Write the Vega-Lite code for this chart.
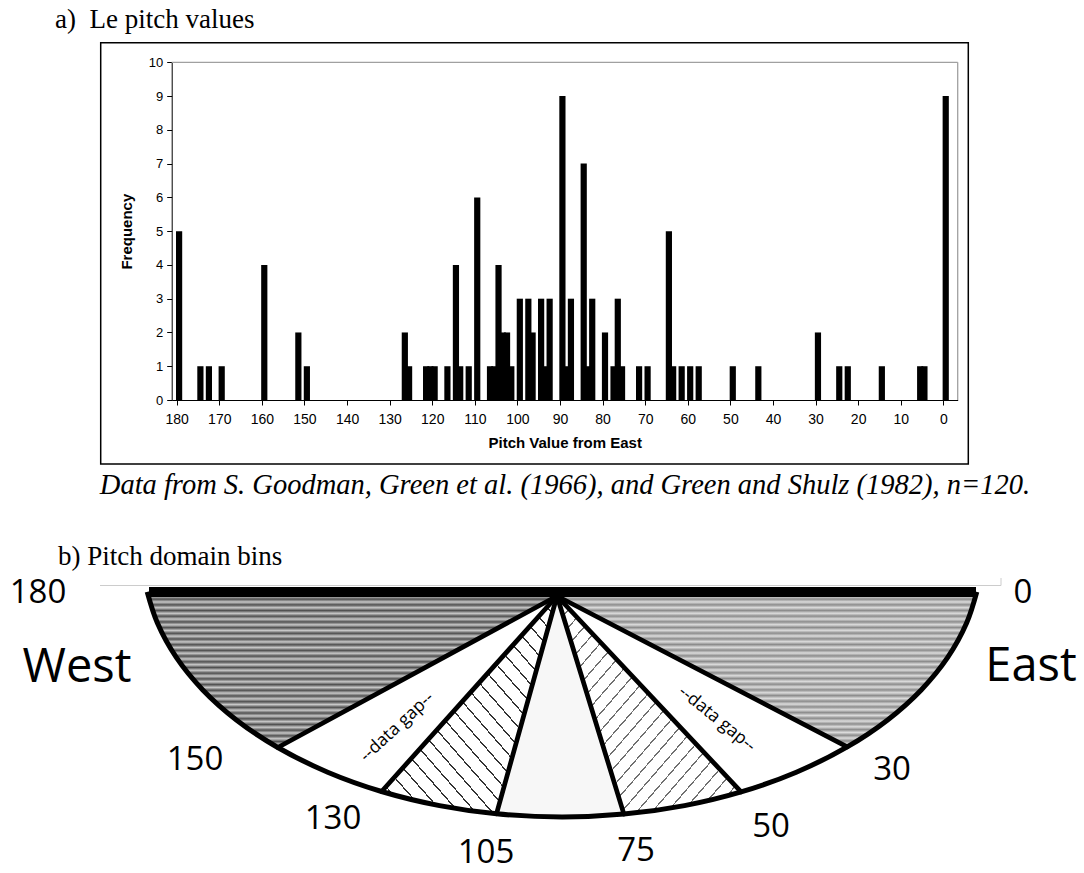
{
  "$schema": "https://vega.github.io/schema/vega-lite/v6.json",
  "width": 1084,
  "height": 873,
  "autosize": {"type": "none"},
  "padding": 0,
  "background": "#ffffff",
  "config": {"view": {"stroke": null}},
  "datasets": {
    "pitch": [
      {"pitch": 180, "count": 5}, {"pitch": 175, "count": 1}, {"pitch": 173, "count": 1}, {"pitch": 170, "count": 1},
      {"pitch": 160, "count": 4}, {"pitch": 152, "count": 2}, {"pitch": 150, "count": 1}, {"pitch": 127, "count": 2},
      {"pitch": 126, "count": 1}, {"pitch": 122, "count": 1}, {"pitch": 121, "count": 1}, {"pitch": 120, "count": 1},
      {"pitch": 117, "count": 1}, {"pitch": 115, "count": 4}, {"pitch": 114, "count": 1}, {"pitch": 112, "count": 1},
      {"pitch": 110, "count": 6}, {"pitch": 107, "count": 1}, {"pitch": 106, "count": 1}, {"pitch": 105, "count": 4},
      {"pitch": 104, "count": 2}, {"pitch": 103, "count": 2}, {"pitch": 102, "count": 1}, {"pitch": 100, "count": 3},
      {"pitch": 98, "count": 3}, {"pitch": 97, "count": 2}, {"pitch": 95, "count": 3}, {"pitch": 94, "count": 1},
      {"pitch": 93, "count": 3}, {"pitch": 90, "count": 9}, {"pitch": 89, "count": 1}, {"pitch": 88, "count": 3},
      {"pitch": 85, "count": 7}, {"pitch": 84, "count": 1}, {"pitch": 83, "count": 3}, {"pitch": 80, "count": 2},
      {"pitch": 78, "count": 1}, {"pitch": 77, "count": 3}, {"pitch": 76, "count": 1}, {"pitch": 72, "count": 1},
      {"pitch": 70, "count": 1}, {"pitch": 65, "count": 5}, {"pitch": 64, "count": 1}, {"pitch": 62, "count": 1},
      {"pitch": 60, "count": 1}, {"pitch": 58, "count": 1}, {"pitch": 50, "count": 1}, {"pitch": 44, "count": 1},
      {"pitch": 30, "count": 2}, {"pitch": 25, "count": 1}, {"pitch": 23, "count": 1}, {"pitch": 15, "count": 1},
      {"pitch": 6, "count": 1}, {"pitch": 5, "count": 1}, {"pitch": 0, "count": 9}
    ],
    "wedges": [
      {"bin": "150-180", "i": 0, "u": 0, "v": 0},
      {"bin": "150-180", "i": 1, "u": -2.792, "v": -1.515},
      {"bin": "150-180", "i": 2, "u": -3.206, "v": -1.239},
      {"bin": "150-180", "i": 3, "u": -3.542, "v": -0.939},
      {"bin": "150-180", "i": 4, "u": -3.807, "v": -0.614},
      {"bin": "150-180", "i": 5, "u": -3.997, "v": -0.268},
      {"bin": "150-180", "i": 6, "u": -4.098, "v": 0.041},
      {"bin": "150-180", "i": 7, "u": 0, "v": 0},
      {"bin": "130-150", "i": 0, "u": 0, "v": 0},
      {"bin": "130-150", "i": 1, "u": -1.754, "v": -1.955},
      {"bin": "130-150", "i": 2, "u": -2.293, "v": -1.762},
      {"bin": "130-150", "i": 3, "u": -2.792, "v": -1.515},
      {"bin": "130-150", "i": 4, "u": 0, "v": 0},
      {"bin": "105-130", "i": 0, "u": 0, "v": 0},
      {"bin": "105-130", "i": 1, "u": -0.605, "v": -2.178},
      {"bin": "105-130", "i": 2, "u": -1.175, "v": -2.096},
      {"bin": "105-130", "i": 3, "u": -1.754, "v": -1.955},
      {"bin": "105-130", "i": 4, "u": 0, "v": 0},
      {"bin": "75-105", "i": 0, "u": 0, "v": 0},
      {"bin": "75-105", "i": 1, "u": 0.669, "v": -2.181},
      {"bin": "75-105", "i": 2, "u": 0.05, "v": -2.21},
      {"bin": "75-105", "i": 3, "u": -0.605, "v": -2.178},
      {"bin": "75-105", "i": 4, "u": 0, "v": 0},
      {"bin": "50-75", "i": 0, "u": 0, "v": 0},
      {"bin": "50-75", "i": 1, "u": 1.841, "v": -1.959},
      {"bin": "50-75", "i": 2, "u": 1.275, "v": -2.096},
      {"bin": "50-75", "i": 3, "u": 0.669, "v": -2.181},
      {"bin": "50-75", "i": 4, "u": 0, "v": 0},
      {"bin": "30-50", "i": 0, "u": 0, "v": 0},
      {"bin": "30-50", "i": 1, "u": 2.902, "v": -1.509},
      {"bin": "30-50", "i": 2, "u": 2.393, "v": -1.762},
      {"bin": "30-50", "i": 3, "u": 1.841, "v": -1.959},
      {"bin": "30-50", "i": 4, "u": 0, "v": 0},
      {"bin": "0-30", "i": 0, "u": 0, "v": 0},
      {"bin": "0-30", "i": 1, "u": 4.198, "v": 0.041},
      {"bin": "0-30", "i": 2, "u": 4.097, "v": -0.268},
      {"bin": "0-30", "i": 3, "u": 3.907, "v": -0.614},
      {"bin": "0-30", "i": 4, "u": 3.642, "v": -0.939},
      {"bin": "0-30", "i": 5, "u": 3.306, "v": -1.239},
      {"bin": "0-30", "i": 6, "u": 2.902, "v": -1.509},
      {"bin": "0-30", "i": 7, "u": 0, "v": 0}
    ],
    "rim": [
      {"i": 0, "u": -4.098, "v": 0.041}, {"i": 1, "u": -3.997, "v": -0.268}, {"i": 2, "u": -3.807, "v": -0.614},
      {"i": 3, "u": -3.542, "v": -0.939}, {"i": 4, "u": -3.206, "v": -1.239}, {"i": 5, "u": -2.792, "v": -1.515},
      {"i": 6, "u": -2.293, "v": -1.762}, {"i": 7, "u": -1.754, "v": -1.955}, {"i": 8, "u": -1.175, "v": -2.096},
      {"i": 9, "u": -0.605, "v": -2.178}, {"i": 10, "u": 0.05, "v": -2.21}, {"i": 11, "u": 0.669, "v": -2.181},
      {"i": 12, "u": 1.275, "v": -2.096}, {"i": 13, "u": 1.841, "v": -1.959}, {"i": 14, "u": 2.393, "v": -1.762},
      {"i": 15, "u": 2.902, "v": -1.509}, {"i": 16, "u": 3.306, "v": -1.239}, {"i": 17, "u": 3.642, "v": -0.939},
      {"i": 18, "u": 3.907, "v": -0.614}, {"i": 19, "u": 4.097, "v": -0.268}, {"i": 20, "u": 4.198, "v": 0.041}
    ],
    "spokes": [
      {"boundary": 150, "u": -2.792, "v": -1.515},
      {"boundary": 130, "u": -1.754, "v": -1.955},
      {"boundary": 105, "u": -0.605, "v": -2.178},
      {"boundary": 75, "u": 0.669, "v": -2.181},
      {"boundary": 50, "u": 1.841, "v": -1.959},
      {"boundary": 30, "u": 2.902, "v": -1.509}
    ],
    "angles": [
      {"text": "180", "u": -5.19, "v": 0.03},
      {"text": "0", "u": 4.66, "v": 0.03},
      {"text": "150", "u": -3.62, "v": -1.64},
      {"text": "130", "u": -2.24, "v": -2.23},
      {"text": "105", "u": -0.71, "v": -2.57},
      {"text": "75", "u": 0.79, "v": -2.55},
      {"text": "50", "u": 2.14, "v": -2.31},
      {"text": "30", "u": 3.35, "v": -1.74}
    ],
    "compass": [
      {"text": "West", "u": -4.8, "v": -0.72},
      {"text": "East", "u": 4.74, "v": -0.71}
    ],
    "titles": [
      {"text": "a)\u00a0 Le pitch values", "u": -5.02, "v": 5.76},
      {"text": "b) Pitch domain bins", "u": -4.99, "v": 0.39}
    ],
    "caption": [
      {"text": "Data from S. Goodman, Green et al. (1966), and Green and Shulz (1982), n=120.", "u": 0.08, "v": 1.11}
    ],
    "gapLeft": [{"text": "--data gap--", "u": -1.6, "v": -1.31}],
    "gapRight": [{"text": "--data gap--", "u": 1.6, "v": -1.23}]
  },
  "resolve": {"scale": {"x": "independent", "y": "independent"}},
  "layer": [
    {
      "data": {"name": "pitch"},
      "mark": {"type": "bar", "color": "#000000", "width": 6.2, "xOffset": 2.4},
      "encoding": {
        "x": {
          "field": "pitch", "type": "quantitative",
          "scale": {"domain": [-2.2, 180], "range": [957.7, 171.7], "nice": false, "zero": false},
          "axis": {
            "orient": "bottom", "offset": -473,
            "values": [180, 170, 160, 150, 140, 130, 120, 110, 100, 90, 80, 70, 60, 50, 40, 30, 20, 10, 0],
            "format": "d", "grid": false,
            "domainColor": "#000000", "domainWidth": 1,
            "tickColor": "#000000", "tickSize": 5, "tickWidth": 1,
            "labelFont": "Liberation Sans", "labelFontSize": 14, "labelColor": "#000000", "labelPadding": 7,
            "labelFlush": false, "labelOverlap": false,
            "title": "Pitch Value from East", "titleFont": "Liberation Sans", "titleFontSize": 15,
            "titleFontWeight": "bold", "titleColor": "#000000", "titlePadding": 9
          }
        },
        "y": {
          "field": "count", "type": "quantitative",
          "scale": {"domain": [0, 10], "range": [400, 62.3], "nice": false},
          "axis": {
            "orient": "left", "offset": -171.7,
            "values": [0, 1, 2, 3, 4, 5, 6, 7, 8, 9, 10],
            "format": "d", "grid": false,
            "domainColor": "#000000", "domainWidth": 1,
            "tickColor": "#000000", "tickSize": 5, "tickWidth": 1,
            "labelFont": "Liberation Sans", "labelFontSize": 13, "labelColor": "#000000", "labelPadding": 4,
            "labelFlush": false, "labelOverlap": false,
            "title": "Frequency", "titleFont": "Liberation Sans", "titleFontSize": 15,
            "titleFontWeight": "bold", "titleColor": "#000000", "titlePadding": 14
          }
        }
      }
    },
    {
      "layer": [
        {
          "data": {"values": [{}]},
          "mark": {"type": "rect", "fill": "transparent", "stroke": "#000000", "strokeWidth": 1.5},
          "encoding": {
            "x": {"datum": -4.563, "type": "quantitative", "scale": {"domain": [-5.57, 5.27], "range": [0, 1084], "nice": false, "zero": false}, "axis": null},
            "x2": {"datum": 4.113},
            "y": {"datum": 5.533, "type": "quantitative", "scale": {"domain": [-2.77, 5.96], "range": [873, 0], "nice": false, "zero": false}, "axis": null},
            "y2": {"datum": 1.32}
          }
        },
        {
          "data": {"values": [{}]},
          "mark": {"type": "rule", "stroke": "#a0a0a0", "strokeWidth": 1.3},
          "encoding": {
            "x": {"datum": -3.853, "type": "quantitative", "axis": null},
            "x2": {"datum": 4.007},
            "y": {"datum": 5.337, "type": "quantitative", "axis": null}
          }
        },
        {
          "data": {"values": [{}]},
          "mark": {"type": "rule", "stroke": "#a0a0a0", "strokeWidth": 1.3},
          "encoding": {
            "x": {"datum": 4.007, "type": "quantitative", "axis": null},
            "y": {"datum": 5.337, "type": "quantitative", "axis": null},
            "y2": {"datum": 1.96}
          }
        },
        {
          "data": {"name": "titles"},
          "mark": {"type": "text", "font": "Liberation Serif", "fontSize": 27, "align": "left", "baseline": "middle", "color": "#000000"},
          "encoding": {
            "x": {"field": "u", "type": "quantitative", "axis": null},
            "y": {"field": "v", "type": "quantitative", "axis": null},
            "text": {"field": "text"}
          }
        },
        {
          "data": {"name": "caption"},
          "mark": {"type": "text", "font": "Liberation Serif", "fontStyle": "italic", "fontSize": 28.5, "align": "center", "baseline": "middle", "color": "#000000"},
          "encoding": {
            "x": {"field": "u", "type": "quantitative", "axis": null},
            "y": {"field": "v", "type": "quantitative", "axis": null},
            "text": {"field": "text"}
          }
        },
        {
          "data": {"values": [{}]},
          "mark": {"type": "rule", "stroke": "#cccccc", "strokeWidth": 1},
          "encoding": {
            "x": {"datum": -4.57, "type": "quantitative", "axis": null},
            "x2": {"datum": 4.44},
            "y": {"datum": 0.105, "type": "quantitative", "axis": null}
          }
        },
        {
          "data": {"values": [{}]},
          "mark": {"type": "rule", "stroke": "#cccccc", "strokeWidth": 1},
          "encoding": {
            "x": {"datum": 4.44, "type": "quantitative", "axis": null},
            "y": {"datum": 0.105, "type": "quantitative", "axis": null},
            "y2": {"datum": 0.18}
          }
        },
        {
          "data": {"name": "wedges"},
          "transform": [{"filter": "datum.bin == '150-180'"}],
          "mark": {
            "type": "line", "stroke": "transparent", "strokeWidth": 0,
            "fill": {
              "gradient": "linear", "x1": 0, "y1": 0, "x2": 0, "y2": 1,
              "stops": [
                {"offset": 0.0100, "color": "#505050"}, {"offset": 0.0283, "color": "#c8c8c8"},
                {"offset": 0.0466, "color": "#505050"}, {"offset": 0.0649, "color": "#c8c8c8"},
                {"offset": 0.0832, "color": "#505050"}, {"offset": 0.1015, "color": "#c8c8c8"},
                {"offset": 0.1198, "color": "#505050"}, {"offset": 0.1381, "color": "#c8c8c8"},
                {"offset": 0.1564, "color": "#505050"}, {"offset": 0.1747, "color": "#c8c8c8"},
                {"offset": 0.1930, "color": "#505050"}, {"offset": 0.2113, "color": "#c8c8c8"},
                {"offset": 0.2296, "color": "#505050"}, {"offset": 0.2479, "color": "#c8c8c8"},
                {"offset": 0.2662, "color": "#505050"}, {"offset": 0.2845, "color": "#c8c8c8"},
                {"offset": 0.3028, "color": "#505050"}, {"offset": 0.3211, "color": "#c8c8c8"},
                {"offset": 0.3394, "color": "#505050"}, {"offset": 0.3577, "color": "#c8c8c8"},
                {"offset": 0.3760, "color": "#505050"}, {"offset": 0.3943, "color": "#c8c8c8"},
                {"offset": 0.4126, "color": "#505050"}, {"offset": 0.4309, "color": "#c8c8c8"},
                {"offset": 0.4492, "color": "#505050"}, {"offset": 0.4675, "color": "#c8c8c8"},
                {"offset": 0.4858, "color": "#505050"}, {"offset": 0.5041, "color": "#c8c8c8"},
                {"offset": 0.5224, "color": "#505050"}, {"offset": 0.5407, "color": "#c8c8c8"},
                {"offset": 0.5590, "color": "#505050"}, {"offset": 0.5773, "color": "#c8c8c8"},
                {"offset": 0.5956, "color": "#505050"}, {"offset": 0.6139, "color": "#c8c8c8"},
                {"offset": 0.6322, "color": "#505050"}, {"offset": 0.6505, "color": "#c8c8c8"},
                {"offset": 0.6688, "color": "#505050"}, {"offset": 0.6871, "color": "#c8c8c8"},
                {"offset": 0.7054, "color": "#505050"}, {"offset": 0.7237, "color": "#c8c8c8"},
                {"offset": 0.7420, "color": "#505050"}, {"offset": 0.7603, "color": "#c8c8c8"},
                {"offset": 0.7786, "color": "#505050"}, {"offset": 0.7969, "color": "#c8c8c8"},
                {"offset": 0.8152, "color": "#505050"}, {"offset": 0.8335, "color": "#c8c8c8"},
                {"offset": 0.8518, "color": "#505050"}, {"offset": 0.8701, "color": "#c8c8c8"},
                {"offset": 0.8884, "color": "#505050"}, {"offset": 0.9067, "color": "#c8c8c8"},
                {"offset": 0.9250, "color": "#505050"}, {"offset": 0.9433, "color": "#c8c8c8"},
                {"offset": 0.9616, "color": "#505050"}, {"offset": 0.9799, "color": "#c8c8c8"}
              ]
            }
          },
          "encoding": {
            "x": {"field": "u", "type": "quantitative", "axis": null},
            "y": {"field": "v", "type": "quantitative", "axis": null},
            "order": {"field": "i"}
          }
        },
        {
          "data": {"name": "wedges"},
          "transform": [{"filter": "datum.bin == '0-30'"}],
          "mark": {
            "type": "line", "stroke": "transparent", "strokeWidth": 0,
            "fill": {
              "gradient": "linear", "x1": 0, "y1": 0, "x2": 0, "y2": 1,
              "stops": [
                {"offset": 0.0100, "color": "#8c8c8c"}, {"offset": 0.0283, "color": "#dcdcdc"},
                {"offset": 0.0466, "color": "#8c8c8c"}, {"offset": 0.0649, "color": "#dcdcdc"},
                {"offset": 0.0832, "color": "#8c8c8c"}, {"offset": 0.1015, "color": "#dcdcdc"},
                {"offset": 0.1198, "color": "#8c8c8c"}, {"offset": 0.1381, "color": "#dcdcdc"},
                {"offset": 0.1564, "color": "#8c8c8c"}, {"offset": 0.1747, "color": "#dcdcdc"},
                {"offset": 0.1930, "color": "#8c8c8c"}, {"offset": 0.2113, "color": "#dcdcdc"},
                {"offset": 0.2296, "color": "#8c8c8c"}, {"offset": 0.2479, "color": "#dcdcdc"},
                {"offset": 0.2662, "color": "#8c8c8c"}, {"offset": 0.2845, "color": "#dcdcdc"},
                {"offset": 0.3028, "color": "#8c8c8c"}, {"offset": 0.3211, "color": "#dcdcdc"},
                {"offset": 0.3394, "color": "#8c8c8c"}, {"offset": 0.3577, "color": "#dcdcdc"},
                {"offset": 0.3760, "color": "#8c8c8c"}, {"offset": 0.3943, "color": "#dcdcdc"},
                {"offset": 0.4126, "color": "#8c8c8c"}, {"offset": 0.4309, "color": "#dcdcdc"},
                {"offset": 0.4492, "color": "#8c8c8c"}, {"offset": 0.4675, "color": "#dcdcdc"},
                {"offset": 0.4858, "color": "#8c8c8c"}, {"offset": 0.5041, "color": "#dcdcdc"},
                {"offset": 0.5224, "color": "#8c8c8c"}, {"offset": 0.5407, "color": "#dcdcdc"},
                {"offset": 0.5590, "color": "#8c8c8c"}, {"offset": 0.5773, "color": "#dcdcdc"},
                {"offset": 0.5956, "color": "#8c8c8c"}, {"offset": 0.6139, "color": "#dcdcdc"},
                {"offset": 0.6322, "color": "#8c8c8c"}, {"offset": 0.6505, "color": "#dcdcdc"},
                {"offset": 0.6688, "color": "#8c8c8c"}, {"offset": 0.6871, "color": "#dcdcdc"},
                {"offset": 0.7054, "color": "#8c8c8c"}, {"offset": 0.7237, "color": "#dcdcdc"},
                {"offset": 0.7420, "color": "#8c8c8c"}, {"offset": 0.7603, "color": "#dcdcdc"},
                {"offset": 0.7786, "color": "#8c8c8c"}, {"offset": 0.7969, "color": "#dcdcdc"},
                {"offset": 0.8152, "color": "#8c8c8c"}, {"offset": 0.8335, "color": "#dcdcdc"},
                {"offset": 0.8518, "color": "#8c8c8c"}, {"offset": 0.8701, "color": "#dcdcdc"},
                {"offset": 0.8884, "color": "#8c8c8c"}, {"offset": 0.9067, "color": "#dcdcdc"},
                {"offset": 0.9250, "color": "#8c8c8c"}, {"offset": 0.9433, "color": "#dcdcdc"},
                {"offset": 0.9616, "color": "#8c8c8c"}, {"offset": 0.9799, "color": "#dcdcdc"}
              ]
            }
          },
          "encoding": {
            "x": {"field": "u", "type": "quantitative", "axis": null},
            "y": {"field": "v", "type": "quantitative", "axis": null},
            "order": {"field": "i"}
          }
        },
        {
          "data": {"name": "wedges"},
          "transform": [{"filter": "datum.bin == '130-150' || datum.bin == '30-50'"}],
          "mark": {"type": "line", "fill": "#ffffff", "stroke": "transparent", "strokeWidth": 0},
          "encoding": {
            "x": {"field": "u", "type": "quantitative", "axis": null},
            "y": {"field": "v", "type": "quantitative", "axis": null},
            "detail": {"field": "bin"},
            "order": {"field": "i"}
          }
        },
        {
          "data": {"name": "wedges"},
          "transform": [{"filter": "datum.bin == '75-105'"}],
          "mark": {"type": "line", "fill": "#f7f7f7", "stroke": "transparent", "strokeWidth": 0},
          "encoding": {
            "x": {"field": "u", "type": "quantitative", "axis": null},
            "y": {"field": "v", "type": "quantitative", "axis": null},
            "order": {"field": "i"}
          }
        },
        {
          "data": {"name": "wedges"},
          "transform": [{"filter": "datum.bin == '105-130'"}],
          "mark": {
            "type": "line", "stroke": "transparent", "strokeWidth": 0,
            "fill": {
              "gradient": "linear", "x1": 0, "y1": 1, "x2": 0.918, "y2": 0,
              "stops": [
                {"offset": 0, "color": "#ffffff"},
                {"offset": 0.03, "color": "#ffffff"}, {"offset": 0.03, "color": "#333333"}, {"offset": 0.035, "color": "#333333"}, {"offset": 0.035, "color": "#ffffff"},
                {"offset": 0.0776, "color": "#ffffff"}, {"offset": 0.0776, "color": "#333333"}, {"offset": 0.0826, "color": "#333333"}, {"offset": 0.0826, "color": "#ffffff"},
                {"offset": 0.1252, "color": "#ffffff"}, {"offset": 0.1252, "color": "#333333"}, {"offset": 0.1302, "color": "#333333"}, {"offset": 0.1302, "color": "#ffffff"},
                {"offset": 0.1728, "color": "#ffffff"}, {"offset": 0.1728, "color": "#333333"}, {"offset": 0.1778, "color": "#333333"}, {"offset": 0.1778, "color": "#ffffff"},
                {"offset": 0.2204, "color": "#ffffff"}, {"offset": 0.2204, "color": "#333333"}, {"offset": 0.2254, "color": "#333333"}, {"offset": 0.2254, "color": "#ffffff"},
                {"offset": 0.268, "color": "#ffffff"}, {"offset": 0.268, "color": "#333333"}, {"offset": 0.273, "color": "#333333"}, {"offset": 0.273, "color": "#ffffff"},
                {"offset": 0.3156, "color": "#ffffff"}, {"offset": 0.3156, "color": "#333333"}, {"offset": 0.3206, "color": "#333333"}, {"offset": 0.3206, "color": "#ffffff"},
                {"offset": 0.3632, "color": "#ffffff"}, {"offset": 0.3632, "color": "#333333"}, {"offset": 0.3682, "color": "#333333"}, {"offset": 0.3682, "color": "#ffffff"},
                {"offset": 0.4108, "color": "#ffffff"}, {"offset": 0.4108, "color": "#333333"}, {"offset": 0.4158, "color": "#333333"}, {"offset": 0.4158, "color": "#ffffff"},
                {"offset": 0.4584, "color": "#ffffff"}, {"offset": 0.4584, "color": "#333333"}, {"offset": 0.4634, "color": "#333333"}, {"offset": 0.4634, "color": "#ffffff"},
                {"offset": 0.506, "color": "#ffffff"}, {"offset": 0.506, "color": "#333333"}, {"offset": 0.511, "color": "#333333"}, {"offset": 0.511, "color": "#ffffff"},
                {"offset": 0.5536, "color": "#ffffff"}, {"offset": 0.5536, "color": "#333333"}, {"offset": 0.5586, "color": "#333333"}, {"offset": 0.5586, "color": "#ffffff"},
                {"offset": 0.6012, "color": "#ffffff"}, {"offset": 0.6012, "color": "#333333"}, {"offset": 0.6062, "color": "#333333"}, {"offset": 0.6062, "color": "#ffffff"},
                {"offset": 0.6488, "color": "#ffffff"}, {"offset": 0.6488, "color": "#333333"}, {"offset": 0.6538, "color": "#333333"}, {"offset": 0.6538, "color": "#ffffff"},
                {"offset": 0.6964, "color": "#ffffff"}, {"offset": 0.6964, "color": "#333333"}, {"offset": 0.7014, "color": "#333333"}, {"offset": 0.7014, "color": "#ffffff"},
                {"offset": 0.744, "color": "#ffffff"}, {"offset": 0.744, "color": "#333333"}, {"offset": 0.749, "color": "#333333"}, {"offset": 0.749, "color": "#ffffff"},
                {"offset": 0.7916, "color": "#ffffff"}, {"offset": 0.7916, "color": "#333333"}, {"offset": 0.7966, "color": "#333333"}, {"offset": 0.7966, "color": "#ffffff"},
                {"offset": 0.8392, "color": "#ffffff"}, {"offset": 0.8392, "color": "#333333"}, {"offset": 0.8442, "color": "#333333"}, {"offset": 0.8442, "color": "#ffffff"},
                {"offset": 0.8868, "color": "#ffffff"}, {"offset": 0.8868, "color": "#333333"}, {"offset": 0.8918, "color": "#333333"}, {"offset": 0.8918, "color": "#ffffff"},
                {"offset": 0.9344, "color": "#ffffff"}, {"offset": 0.9344, "color": "#333333"}, {"offset": 0.9394, "color": "#333333"}, {"offset": 0.9394, "color": "#ffffff"},
                {"offset": 0.982, "color": "#ffffff"}, {"offset": 0.982, "color": "#333333"}, {"offset": 0.987, "color": "#333333"}, {"offset": 0.987, "color": "#ffffff"},
                {"offset": 1, "color": "#ffffff"}
              ]
            }
          },
          "encoding": {
            "x": {"field": "u", "type": "quantitative", "axis": null},
            "y": {"field": "v", "type": "quantitative", "axis": null},
            "order": {"field": "i"}
          }
        },
        {
          "data": {"name": "wedges"},
          "transform": [{"filter": "datum.bin == '50-75'"}],
          "mark": {
            "type": "line", "stroke": "transparent", "strokeWidth": 0,
            "fill": {
              "gradient": "linear", "x1": 0, "y1": 0, "x2": 0.9706, "y2": 1,
              "stops": [
                {"offset": 0, "color": "#ffffff"},
                {"offset": 0.02, "color": "#ffffff"}, {"offset": 0.02, "color": "#707070"}, {"offset": 0.0245, "color": "#707070"}, {"offset": 0.0245, "color": "#ffffff"},
                {"offset": 0.0614, "color": "#ffffff"}, {"offset": 0.0614, "color": "#707070"}, {"offset": 0.0659, "color": "#707070"}, {"offset": 0.0659, "color": "#ffffff"},
                {"offset": 0.1028, "color": "#ffffff"}, {"offset": 0.1028, "color": "#707070"}, {"offset": 0.1073, "color": "#707070"}, {"offset": 0.1073, "color": "#ffffff"},
                {"offset": 0.1442, "color": "#ffffff"}, {"offset": 0.1442, "color": "#707070"}, {"offset": 0.1487, "color": "#707070"}, {"offset": 0.1487, "color": "#ffffff"},
                {"offset": 0.1856, "color": "#ffffff"}, {"offset": 0.1856, "color": "#707070"}, {"offset": 0.1901, "color": "#707070"}, {"offset": 0.1901, "color": "#ffffff"},
                {"offset": 0.227, "color": "#ffffff"}, {"offset": 0.227, "color": "#707070"}, {"offset": 0.2315, "color": "#707070"}, {"offset": 0.2315, "color": "#ffffff"},
                {"offset": 0.2684, "color": "#ffffff"}, {"offset": 0.2684, "color": "#707070"}, {"offset": 0.2729, "color": "#707070"}, {"offset": 0.2729, "color": "#ffffff"},
                {"offset": 0.3098, "color": "#ffffff"}, {"offset": 0.3098, "color": "#707070"}, {"offset": 0.3143, "color": "#707070"}, {"offset": 0.3143, "color": "#ffffff"},
                {"offset": 0.3512, "color": "#ffffff"}, {"offset": 0.3512, "color": "#707070"}, {"offset": 0.3557, "color": "#707070"}, {"offset": 0.3557, "color": "#ffffff"},
                {"offset": 0.3926, "color": "#ffffff"}, {"offset": 0.3926, "color": "#707070"}, {"offset": 0.3971, "color": "#707070"}, {"offset": 0.3971, "color": "#ffffff"},
                {"offset": 0.434, "color": "#ffffff"}, {"offset": 0.434, "color": "#707070"}, {"offset": 0.4385, "color": "#707070"}, {"offset": 0.4385, "color": "#ffffff"},
                {"offset": 0.4754, "color": "#ffffff"}, {"offset": 0.4754, "color": "#707070"}, {"offset": 0.4799, "color": "#707070"}, {"offset": 0.4799, "color": "#ffffff"},
                {"offset": 0.5168, "color": "#ffffff"}, {"offset": 0.5168, "color": "#707070"}, {"offset": 0.5213, "color": "#707070"}, {"offset": 0.5213, "color": "#ffffff"},
                {"offset": 0.5582, "color": "#ffffff"}, {"offset": 0.5582, "color": "#707070"}, {"offset": 0.5627, "color": "#707070"}, {"offset": 0.5627, "color": "#ffffff"},
                {"offset": 0.5996, "color": "#ffffff"}, {"offset": 0.5996, "color": "#707070"}, {"offset": 0.6041, "color": "#707070"}, {"offset": 0.6041, "color": "#ffffff"},
                {"offset": 0.641, "color": "#ffffff"}, {"offset": 0.641, "color": "#707070"}, {"offset": 0.6455, "color": "#707070"}, {"offset": 0.6455, "color": "#ffffff"},
                {"offset": 0.6824, "color": "#ffffff"}, {"offset": 0.6824, "color": "#707070"}, {"offset": 0.6869, "color": "#707070"}, {"offset": 0.6869, "color": "#ffffff"},
                {"offset": 0.7238, "color": "#ffffff"}, {"offset": 0.7238, "color": "#707070"}, {"offset": 0.7283, "color": "#707070"}, {"offset": 0.7283, "color": "#ffffff"},
                {"offset": 0.7652, "color": "#ffffff"}, {"offset": 0.7652, "color": "#707070"}, {"offset": 0.7697, "color": "#707070"}, {"offset": 0.7697, "color": "#ffffff"},
                {"offset": 0.8066, "color": "#ffffff"}, {"offset": 0.8066, "color": "#707070"}, {"offset": 0.8111, "color": "#707070"}, {"offset": 0.8111, "color": "#ffffff"},
                {"offset": 0.848, "color": "#ffffff"}, {"offset": 0.848, "color": "#707070"}, {"offset": 0.8525, "color": "#707070"}, {"offset": 0.8525, "color": "#ffffff"},
                {"offset": 0.8894, "color": "#ffffff"}, {"offset": 0.8894, "color": "#707070"}, {"offset": 0.8939, "color": "#707070"}, {"offset": 0.8939, "color": "#ffffff"},
                {"offset": 0.9308, "color": "#ffffff"}, {"offset": 0.9308, "color": "#707070"}, {"offset": 0.9353, "color": "#707070"}, {"offset": 0.9353, "color": "#ffffff"},
                {"offset": 0.9722, "color": "#ffffff"}, {"offset": 0.9722, "color": "#707070"}, {"offset": 0.9767, "color": "#707070"}, {"offset": 0.9767, "color": "#ffffff"},
                {"offset": 1, "color": "#ffffff"}
              ]
            }
          },
          "encoding": {
            "x": {"field": "u", "type": "quantitative", "axis": null},
            "y": {"field": "v", "type": "quantitative", "axis": null},
            "order": {"field": "i"}
          }
        },
        {
          "data": {"name": "spokes"},
          "mark": {"type": "rule", "stroke": "#000000", "strokeWidth": 4.7, "strokeCap": "round"},
          "encoding": {
            "x": {"field": "u", "type": "quantitative", "axis": null},
            "y": {"field": "v", "type": "quantitative", "axis": null},
            "x2": {"datum": 0},
            "y2": {"datum": 0}
          }
        },
        {
          "data": {"name": "rim"},
          "mark": {"type": "line", "stroke": "#000000", "strokeWidth": 5, "interpolate": "catmull-rom", "strokeCap": "butt"},
          "encoding": {
            "x": {"field": "u", "type": "quantitative", "axis": null},
            "y": {"field": "v", "type": "quantitative", "axis": null},
            "order": {"field": "i"}
          }
        },
        {
          "data": {"values": [{}]},
          "mark": {"type": "rule", "stroke": "#000000", "strokeWidth": 10, "strokeCap": "butt"},
          "encoding": {
            "x": {"datum": -4.08, "type": "quantitative", "axis": null},
            "x2": {"datum": 4.19},
            "y": {"datum": 0.04, "type": "quantitative", "axis": null}
          }
        },
        {
          "data": {"name": "gapLeft"},
          "mark": {"type": "text", "font": "Open Sans", "fontSize": 17.5, "angle": 317, "align": "center", "baseline": "middle", "color": "#000000"},
          "encoding": {
            "x": {"field": "u", "type": "quantitative", "axis": null},
            "y": {"field": "v", "type": "quantitative", "axis": null},
            "text": {"field": "text"}
          }
        },
        {
          "data": {"name": "gapRight"},
          "mark": {"type": "text", "font": "Open Sans", "fontSize": 17.5, "angle": 39, "align": "center", "baseline": "middle", "color": "#000000"},
          "encoding": {
            "x": {"field": "u", "type": "quantitative", "axis": null},
            "y": {"field": "v", "type": "quantitative", "axis": null},
            "text": {"field": "text"}
          }
        },
        {
          "data": {"name": "angles"},
          "mark": {"type": "text", "font": "Open Sans", "fontSize": 33, "align": "center", "baseline": "middle", "color": "#000000"},
          "encoding": {
            "x": {"field": "u", "type": "quantitative", "axis": null},
            "y": {"field": "v", "type": "quantitative", "axis": null},
            "text": {"field": "text"}
          }
        },
        {
          "data": {"name": "compass"},
          "mark": {"type": "text", "font": "Open Sans", "fontSize": 47, "align": "center", "baseline": "middle", "color": "#000000"},
          "encoding": {
            "x": {"field": "u", "type": "quantitative", "axis": null},
            "y": {"field": "v", "type": "quantitative", "axis": null},
            "text": {"field": "text"}
          }
        }
      ]
    }
  ]
}
